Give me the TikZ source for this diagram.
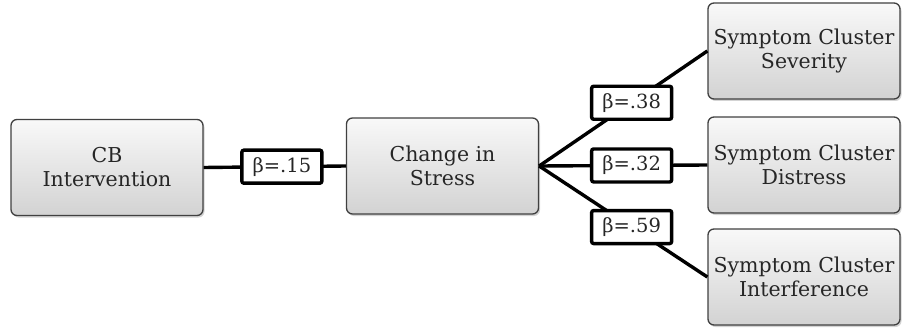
\documentclass[tikz,border=0pt]{standalone}
\usepackage{fontspec}
\setmainfont{DejaVu Serif}
\usetikzlibrary{shadows}
\tikzset{
  box/.style={draw=black!75, line width=1.3pt, rounded corners=6pt,
    top color=gray!5, bottom color=gray!35, minimum width=192pt,
    minimum height=96pt, align=center, text=black!85,
    font=\fontsize{20.5}{24}\selectfont,
    drop shadow={shadow xshift=1.5pt, shadow yshift=-2pt, opacity=.35}},
  coef/.style={draw, fill=white, line width=3.4pt, rounded corners=2pt,
    minimum width=80pt, minimum height=33pt, inner sep=1pt, text=black!85,
    font=\fontsize{19.5}{22}\selectfont},
  link/.style={line width=3.4pt}
}
\begin{document}
\begin{tikzpicture}[x=1pt,y=-1pt]
\useasboundingbox (0,0) rectangle (903,329);
% boxes
\node[box] (cb) at (107,167.5) {CB\\Intervention};
\node[box] (stress) at (442.5,166) {Change in\\Stress};
\node[box] (sev) at (804,51) {Symptom Cluster\\Severity};
\node[box] (dis) at (804,165) {Symptom Cluster\\Distress};
\node[box] (intf) at (804,277) {Symptom Cluster\\Interference};
% paths
\draw[link] (cb.east) -- node[coef, pos=.55] (b1) {β=.15} (stress.west);
\draw[link] (stress.east) -- node[coef, pos=.55] (b2) {β=.38} (sev.west);
\draw[link] (stress.east) -- node[coef, pos=.55] (b3) {β=.32} (dis.west);
\draw[link] (stress.east) -- node[coef, pos=.55] (b4) {β=.59} (intf.west);
\end{tikzpicture}
\end{document}
